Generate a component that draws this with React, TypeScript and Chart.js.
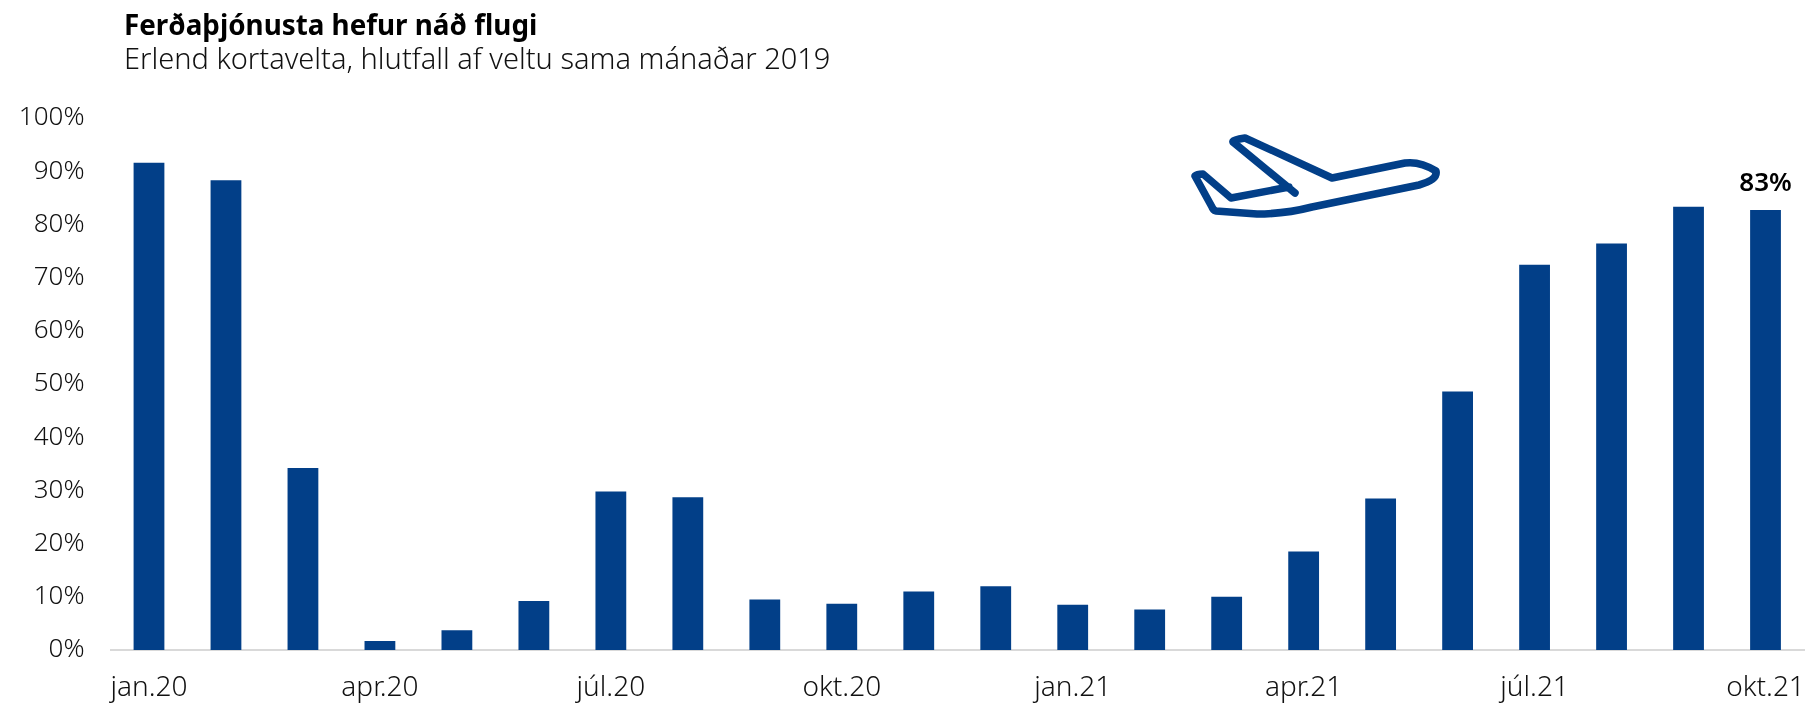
import React, { useEffect, useRef } from "react";
import { Chart, registerables } from "chart.js";

Chart.register(...registerables);

const categories = ["jan.20","feb.20","mar.20","apr.20","maí.20","jún.20","júl.20","ágú.20","sep.20","okt.20","nóv.20","des.20","jan.21","feb.21","mar.21","apr.21","maí.21","jún.21","júl.21","ágú.21","sep.21","okt.21"];
const shownLabels = ["jan.20","apr.20","júl.20","okt.20","jan.21","apr.21","júl.21","okt.21"];
const values = [91.6,88.3,34.2,1.7,3.7,9.2,29.8,28.7,9.5,8.7,11,12,8.5,7.6,10,18.5,28.5,48.6,72.4,76.4,83.3,82.7];
const labelledIndex = 21;
const titleText = "Ferðaþjónusta hefur náð flugi";
const subtitleText = "Erlend kortavelta, hlutfall af veltu sama mánaðar 2019";

const BLUE = "#023f88";
const FONT = "'Noto Sans', sans-serif";
const planePath = "M1295 193 L1233 142 Q1232 140 1245 138 L1332 178 L1405 163 Q1420 161 1436 171 Q1438 180 1419 185 L1312 207 Q1285 214 1257 214 L1216 211 Q1213 210 1212 207 L1195 176 Q1197 174 1203 174 L1231 198 L1289 187";

const barLabel = {
  id: "barLabel",
  afterDatasetsDraw(chart: any) {
    const el = chart.getDatasetMeta(0).data[labelledIndex];
    const { ctx } = chart;
    ctx.save();
    ctx.font = `600 26px ${FONT}`;
    ctx.fillStyle = "#000";
    ctx.textAlign = "center";
    ctx.textBaseline = "middle";
    ctx.fillText(`${Math.round(values[labelledIndex])}%`, el.x, el.y - 26);
    ctx.restore();
  },
};

export default function App() {
  const ref = useRef<HTMLCanvasElement>(null);
  useEffect(() => {
    document.body.style.margin = "0";
    const chart = new Chart(ref.current!, {
      type: "bar",
      data: {
        labels: categories,
        datasets: [{ data: values, backgroundColor: BLUE, barPercentage: 0.4, categoryPercentage: 1 }],
      },
      plugins: [barLabel],
      options: {
        animation: false,
        responsive: false,
        layout: { padding: { top: 118, right: 15, bottom: 0, left: 0 } },
        plugins: { legend: { display: false }, tooltip: { enabled: false } },
        scales: {
          x: {
            afterFit(s: any) { s.height = 54; s.paddingLeft = 0; s.paddingRight = 0; },
            grid: { display: false, drawTicks: false },
            border: { color: "#d9d9d9", width: 2 },
            ticks: {
              autoSkip: false,
              maxRotation: 0,
              padding: 21,
              color: "#111",
              font: { family: FONT, size: 28, weight: "300" },
              callback(_v: any, i: number) {
                const l = categories[i];
                return shownLabels.includes(l) ? l : "";
              },
            },
          },
          y: {
            min: 0,
            max: 100,
            afterFit(s: any) { s.width = 110.5; s.paddingTop = 0; s.paddingBottom = 0; },
            grid: { display: false, drawTicks: false },
            border: { display: false },
            ticks: {
              stepSize: 10,
              padding: 26,
              color: "#111",
              font: { family: FONT, size: 26, weight: "300" },
              callback: (v: any) => `${v}%`,
            },
          },
        },
      },
    } as any);
    return () => chart.destroy();
  }, []);
  return (
    <div style={{ position: "relative", width: 1819, height: 704, background: "#fff", overflow: "hidden" }}>
      <canvas ref={ref} width={1819} height={704} style={{ display: "block" }} />
      <div style={{ position: "absolute", left: 124, top: 5, font: `700 27.8px ${FONT}`, color: "#000", whiteSpace: "nowrap" }}>{titleText}</div>
      <div style={{ position: "absolute", left: 124, top: 38, font: `300 29px ${FONT}`, color: "#111", whiteSpace: "nowrap" }}>{subtitleText}</div>
      <svg width={1819} height={704} style={{ position: "absolute", left: 0, top: 0 }}>
        <path d={planePath} fill="none" stroke={BLUE} strokeWidth={7.5} strokeLinejoin="round" strokeLinecap="round" />
      </svg>
    </div>
  );
}
